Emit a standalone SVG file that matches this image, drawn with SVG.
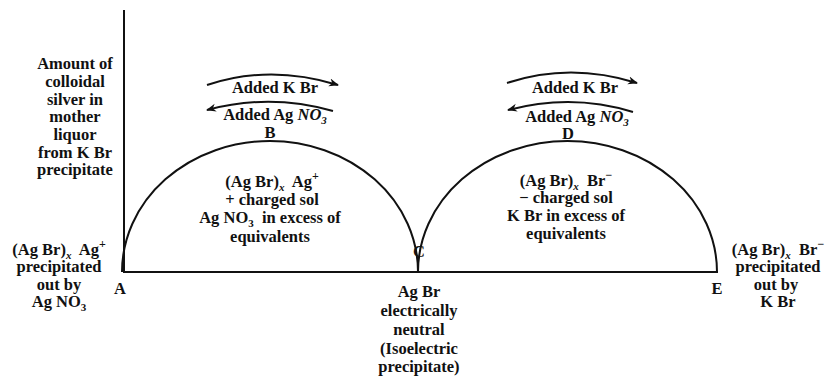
<svg xmlns="http://www.w3.org/2000/svg" width="833" height="378" viewBox="0 0 833 378">
<defs>
<marker id="ah" viewBox="0 0 10 10" refX="9" refY="5" markerWidth="10" markerHeight="10" markerUnits="userSpaceOnUse" orient="auto"><path d="M0,1 L10,5 L0,9 L3,5 Z" fill="#111"/></marker>
</defs>
<style>
text{font-family:"Liberation Serif","DejaVu Serif",serif;font-weight:bold;font-size:16.5px;fill:#111;text-anchor:middle}
.ln{fill:none;stroke:#111;stroke-width:2}
.ar{fill:none;stroke:#111;stroke-width:2;marker-end:url(#ah)}
.sub{font-size:11px}
.sup{font-size:12px}
</style>
<rect width="833" height="378" fill="#fff"/>
<g id="axes">
<line class="ln" x1="124" y1="10" x2="124" y2="272"/>
<line class="ln" x1="123" y1="272" x2="718" y2="272"/>
</g>
<g id="connectors">
<path class="ln" d="M122,272 A148,131 0 0 1 418,272"/>
<path class="ln" d="M418,272 A149.5,131 0 0 1 717,272"/>
<path class="ar" d="M207,85 Q270,64 338,85"/>
<path class="ar" d="M333,111 Q270,93 207,110"/>
<path class="ar" d="M507,83 Q570,62 637,83"/>
<path class="ar" d="M633,112 Q572,93 508,110"/>
</g>
<g id="yaxis-label">
<text x="75" y="69">Amount of</text>
<text x="75" y="87">colloidal</text>
<text x="75" y="105">silver in</text>
<text x="75" y="122">mother</text>
<text x="75" y="140">liquor</text>
<text x="75" y="158">from K Br</text>
<text x="75" y="175">precipitate</text>
</g>
<g id="A">
<text x="120" y="294">A</text>
</g>
<g id="left-label">
<text x="59" y="255">(Ag Br)<tspan class="sub" dy="4" font-style="italic">x</tspan><tspan dy="-4">&#160; Ag</tspan><tspan class="sup" dy="-7">+</tspan></text>
<text x="59" y="272">precipitated</text>
<text x="59" y="290">out by</text>
<text x="59" y="307">Ag NO<tspan class="sub" dy="4">3</tspan></text>
</g>
<g id="B">
<text x="275" y="93">Added K Br</text>
<text x="275" y="120">Added Ag <tspan font-style="italic">NO</tspan><tspan class="sub" dy="4" font-style="italic">3</tspan></text>
<text x="270" y="138">B</text>
</g>
<g id="left-region">
<text x="272" y="187">(Ag Br)<tspan class="sub" dy="4" font-style="italic">x</tspan><tspan dy="-4">&#160; Ag</tspan><tspan class="sup" dy="-7">+</tspan></text>
<text x="272" y="205">+ charged sol</text>
<text x="270" y="223">Ag NO<tspan class="sub" dy="4">3</tspan><tspan dy="-4">&#160; in excess of</tspan></text>
<text x="270" y="242">equivalents</text>
</g>
<g id="C">
<text x="419" y="257">C</text>
<text x="419" y="297">Ag Br</text>
<text x="419" y="316">electrically</text>
<text x="419" y="335">neutral</text>
<text x="419" y="354">(Isoelectric</text>
<text x="419" y="372">precipitate)</text>
</g>
<g id="D">
<text x="575" y="93">Added K Br</text>
<text x="577" y="122">Added Ag <tspan font-style="italic">NO</tspan><tspan class="sub" dy="4" font-style="italic">3</tspan></text>
<text x="568" y="139">D</text>
</g>
<g id="right-region">
<text x="566" y="186">(Ag Br)<tspan class="sub" dy="4" font-style="italic">x</tspan><tspan dy="-4">&#160; Br</tspan><tspan class="sup" dy="-7">−</tspan></text>
<text x="566" y="203">− charged sol</text>
<text x="566" y="221">K Br in excess of</text>
<text x="566" y="239">equivalents</text>
</g>
<g id="E">
<text x="717" y="294">E</text>
</g>
<g id="right-label">
<text x="778" y="255">(Ag Br)<tspan class="sub" dy="4" font-style="italic">x</tspan><tspan dy="-4">&#160; Br</tspan><tspan class="sup" dy="-7">−</tspan></text>
<text x="778" y="272">precipitated</text>
<text x="776" y="290">out by</text>
<text x="778" y="307">K Br</text>
</g>
</svg>
